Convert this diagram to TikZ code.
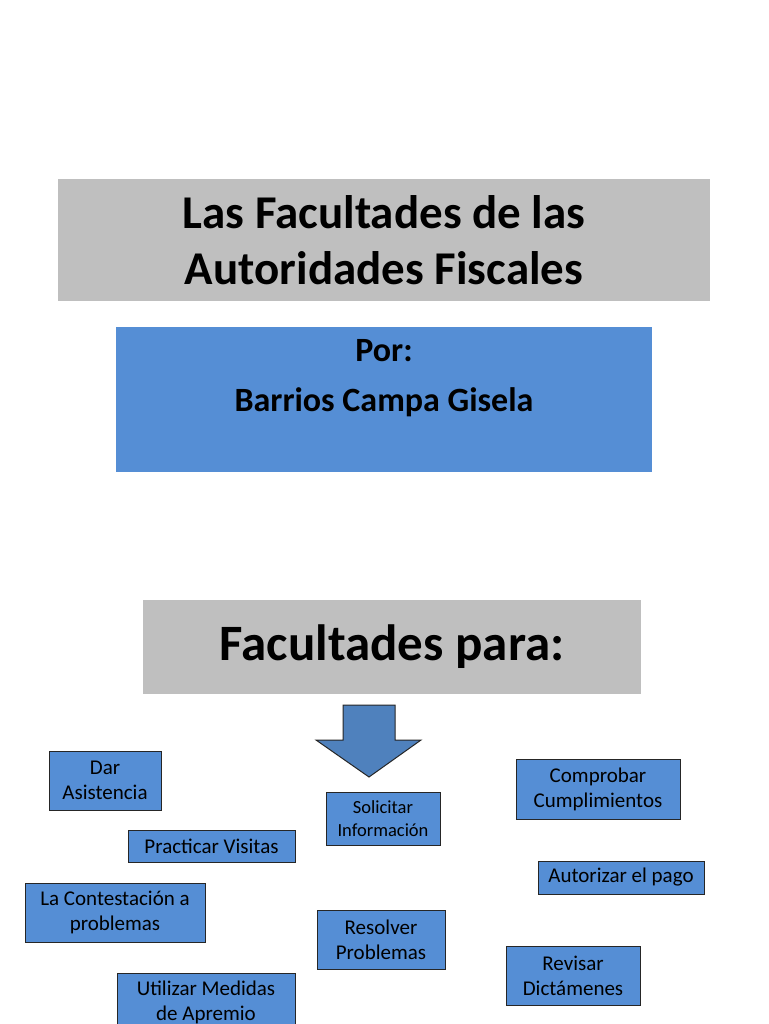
\documentclass[tikz,border=0pt]{standalone}
\usepackage{fontspec}
\setmainfont{Carlito}
\definecolor{grayfill}{HTML}{BFBFBF}
\definecolor{bluefill}{HTML}{558ED5}
\definecolor{arrowfill}{HTML}{4F81BD}
\begin{document}
\begin{tikzpicture}[x=1pt,y=-1pt,
  graybox/.style={fill=grayfill, draw=none, inner sep=0pt, align=center},
  item/.style={fill=bluefill, draw=black!85, line width=0.9pt, inner sep=1pt, align=center,
    font=\fontsize{21}{25}\selectfont},
  smallitem/.style={item, font=\fontsize{18.5}{23}\selectfont}
]
\useasboundingbox (0,0) rectangle (768,1024);
\clip (0,0) rectangle (768,1024);
% title
\node[graybox, minimum width=652pt, minimum height=122pt] (title) at (384,240) {};
\node[font=\bfseries\fontsize{47}{56}\selectfont, align=center, anchor=center] (titletext) at (384,240) {Las Facultades de las\\Autoridades Fiscales};
% author box
\node[fill=bluefill, draw=none, minimum width=536pt, minimum height=145pt] (author) at (384,399.5) {};
\node[font=\bfseries\fontsize{34}{50}\selectfont, align=center, anchor=north] (authortext) at (384,336) {Por:\\Barrios Campa Gisela};
% facultades para
\node[graybox, minimum width=498pt, minimum height=94pt, font=\bfseries\fontsize{51}{56}\selectfont] (fac) at (392,647) {Facultades para:};
% arrow
\draw[fill=arrowfill, draw=black!85, line width=1pt] (343,705) -- (395,705) -- (395,740) -- (421,740) -- (369,777) coordinate (tip) -- (316,740) -- (343,740) -- cycle;
% items
\node[item, minimum width=112pt, minimum height=59pt] (dar) at (105,780.5) {Dar\\Asistencia};
\node[item, minimum width=167pt, minimum height=32pt] (visitas) at (211.5,846) {Practicar Visitas};
\node[item, minimum width=180pt, minimum height=59pt] (contest) at (115,912.5) {La Contestación a\\problemas};
\node[item, minimum width=178pt, minimum height=59pt] (apremio) at (206,1002.5) {Utilizar Medidas\\de Apremio};
\node[smallitem, minimum width=114pt, minimum height=53pt] (solicitar) at (383,818.5) {Solicitar\\Información};
\node[item, minimum width=128pt, minimum height=59pt] (resolver) at (381,939.5) {Resolver\\Problemas};
\node[item, minimum width=164pt, minimum height=60pt] (comprobar) at (598,789) {Comprobar\\Cumplimientos};
\node[item, minimum width=166pt, minimum height=33pt] (autorizar) at (621,877.5) {Autorizar el pago};
\node[item, minimum width=134pt, minimum height=59pt] (revisar) at (573,975.5) {Revisar\\Dictámenes};
\end{tikzpicture}
\end{document}
